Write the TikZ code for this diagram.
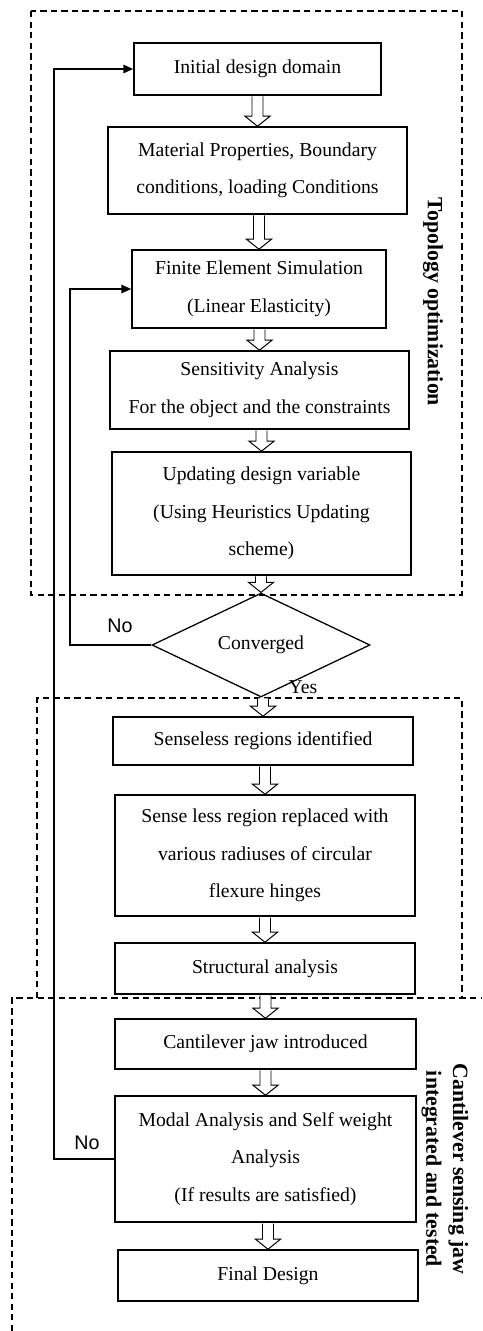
\documentclass[tikz,border=0pt]{standalone}
\usepackage{fontspec}
\setmainfont{Liberation Serif}
\newfontfamily\labelsans{Liberation Sans}
\usetikzlibrary{calc,positioning,arrows.meta,shapes.geometric}

\tikzset{
  block/.style={draw, line width=1.1pt, rectangle, inner sep=0pt},
  decision/.style={draw, line width=0.9pt, diamond, inner sep=0pt,
    minimum width=5.45cm, minimum height=2.1cm},
  group/.style={dash pattern=on 4.5pt off 3pt, line width=0.9pt},
  loop/.style={line width=1pt, -{Triangle[length=7pt,width=6pt]}},
  hollow/.style={fill=white, line width=0.7pt},
  side/.style={rotate=-90, align=center, font=\fontsize{15.5}{19}\selectfont\bfseries}
}

% open block arrow between two stacked nodes
\newcommand{\flowto}[2]{%
  \draw[hollow] ($(#2.north |- #1.south)+(-5.5,0.7)$) -- ($(#2.north)+(-5.5,-10)$)
    -- ($(#2.north)+(-12.5,-10)$) -- (#2.north) -- ($(#2.north)+(12.5,-10)$)
    -- ($(#2.north)+(5.5,-10)$) -- ($(#2.north |- #1.south)+(5.5,0.7)$);}

\begin{document}
\begin{tikzpicture}[x=0.025cm, y=-0.025cm,
  every text node part/.style={align=center},
  font=\fontsize{14}{26.7}\selectfont]
\useasboundingbox (0,0) rectangle (482,1331);

% dashed groups (the lower two share one edge)
\draw[group] (31,11) rectangle (462,595);
\draw[group] (37,998) -- (37,698) -- (462,698) -- (462,998);
\draw[group] (12,1331) -- (12,998) -- (482,998);

\node[side] (topo) at (433,302) {Topology optimization};
\node[side] (jawlabel) at (445,1169) {Cantilever sensing jaw\\integrated and tested};

% steps
\node[block, minimum width=6.175cm, minimum height=1.3cm] (init) at (257.5,69) {Initial design domain};
\node[block, minimum width=7.475cm, minimum height=2.175cm] (matl) at (257.5,170.5) {Material Properties, Boundary\\conditions, loading Conditions};
\node[block, minimum width=6.35cm, minimum height=1.95cm] (fem) at (259,289) {Finite Element Simulation\\(Linear Elasticity)};
\node[block, minimum width=7.475cm, minimum height=1.95cm] (sens) at (259.5,390) {Sensitivity Analysis\\For the object and the constraints};
\node[block, minimum width=7.475cm, minimum height=3.075cm] (update) at (261.5,513.5) {Updating design variable\\(Using Heuristics Updating\\scheme)};
\node[decision] (conv) at (261,645) {Converged};
\node[block, minimum width=7.5cm, minimum height=1.2cm] (senseless) at (263,741) {Senseless regions identified};
\node[block, minimum width=7.5cm, minimum height=3.025cm] (hinges) at (265,855.5) {Sense less region replaced with\\various radiuses of circular\\flexure hinges};
\node[block, minimum width=7.5cm, minimum height=1.275cm] (struct) at (265,968.5) {Structural analysis};
\node[block, minimum width=7.525cm, minimum height=1.25cm] (jaw) at (265.5,1044) {Cantilever jaw introduced};
\node[block, minimum width=7.525cm, minimum height=3.15cm] (modal) at (265.5,1159) {Modal Analysis and Self weight\\Analysis\\(If results are satisfied)};
\node[block, minimum width=7.5cm, minimum height=1.275cm] (final) at (268,1275.5) {Final Design};

\flowto{init}{matl}
\flowto{matl}{fem}
\flowto{fem}{sens}
\flowto{sens}{update}
\flowto{update}{conv}
\flowto{conv}{senseless}
\flowto{senseless}{hinges}
\flowto{hinges}{struct}
\flowto{struct}{jaw}
\flowto{jaw}{modal}
\flowto{modal}{final}

% feedback loops
\coordinate (inner) at (70,645);
\coordinate (outer) at (54,1159);
\draw[loop] (conv.west) -- (inner) |- (fem.west);
\draw[loop] (modal.west) -- (outer) |- (init.west);

\node[font=\labelsans\fontsize{14}{16}\selectfont] (no1) at (120,626) {No};
\node (yes) at (303,687) {Yes};
\node[font=\labelsans\fontsize{14}{16}\selectfont] (no2) at (87,1143) {No};
\end{tikzpicture}
\end{document}
